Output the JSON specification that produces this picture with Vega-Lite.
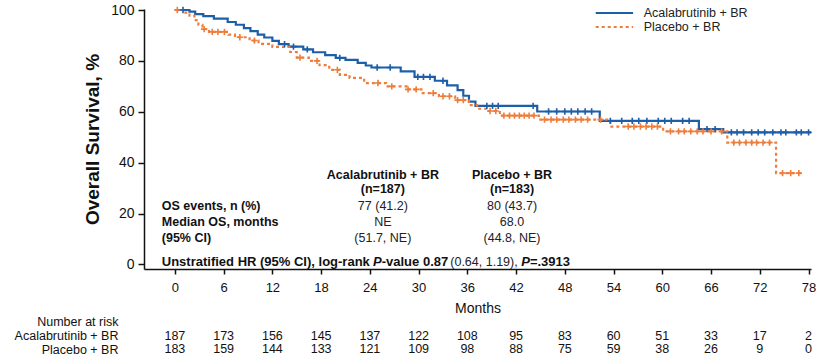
{
  "$schema": "https://vega.github.io/schema/vega-lite/v6.json",
  "padding": {"left": 14, "top": 3, "right": 0, "bottom": 0},
  "config": {"view": {"stroke": null}, "font": "Liberation Sans", "concat": {"spacing": -1}},
  "datasets": {
    "curves": [
      {"arm": "Acalabrutinib + BR", "month": 0, "surv": 100},
      {"arm": "Acalabrutinib + BR", "month": 1.8, "surv": 99.4},
      {"arm": "Acalabrutinib + BR", "month": 2.5, "surv": 98.4},
      {"arm": "Acalabrutinib + BR", "month": 3.5, "surv": 97.6},
      {"arm": "Acalabrutinib + BR", "month": 4.8, "surv": 96.6},
      {"arm": "Acalabrutinib + BR", "month": 6.5, "surv": 95.3},
      {"arm": "Acalabrutinib + BR", "month": 7.5, "surv": 94.2},
      {"arm": "Acalabrutinib + BR", "month": 8.5, "surv": 92.9},
      {"arm": "Acalabrutinib + BR", "month": 9.3, "surv": 91.7},
      {"arm": "Acalabrutinib + BR", "month": 10.2, "surv": 90.3},
      {"arm": "Acalabrutinib + BR", "month": 11, "surv": 89.2},
      {"arm": "Acalabrutinib + BR", "month": 12, "surv": 87.9},
      {"arm": "Acalabrutinib + BR", "month": 12.8, "surv": 86.6},
      {"arm": "Acalabrutinib + BR", "month": 14, "surv": 85.6},
      {"arm": "Acalabrutinib + BR", "month": 15.8, "surv": 84.5},
      {"arm": "Acalabrutinib + BR", "month": 17, "surv": 83.4},
      {"arm": "Acalabrutinib + BR", "month": 18.5, "surv": 82.3},
      {"arm": "Acalabrutinib + BR", "month": 19.8, "surv": 81.2},
      {"arm": "Acalabrutinib + BR", "month": 21, "surv": 80.4},
      {"arm": "Acalabrutinib + BR", "month": 22.5, "surv": 79.2},
      {"arm": "Acalabrutinib + BR", "month": 23.5, "surv": 78.2},
      {"arm": "Acalabrutinib + BR", "month": 24.2, "surv": 77.4},
      {"arm": "Acalabrutinib + BR", "month": 27.8, "surv": 75.9},
      {"arm": "Acalabrutinib + BR", "month": 29.5, "surv": 73.7},
      {"arm": "Acalabrutinib + BR", "month": 32, "surv": 72.2},
      {"arm": "Acalabrutinib + BR", "month": 33.5, "surv": 70.4},
      {"arm": "Acalabrutinib + BR", "month": 34.8, "surv": 68.5},
      {"arm": "Acalabrutinib + BR", "month": 35.5, "surv": 66.3},
      {"arm": "Acalabrutinib + BR", "month": 36.2, "surv": 64},
      {"arm": "Acalabrutinib + BR", "month": 37, "surv": 62.3},
      {"arm": "Acalabrutinib + BR", "month": 44.6, "surv": 60.1},
      {"arm": "Acalabrutinib + BR", "month": 52.3, "surv": 56.4},
      {"arm": "Acalabrutinib + BR", "month": 64.5, "surv": 53.2},
      {"arm": "Acalabrutinib + BR", "month": 67.5, "surv": 51.9},
      {"arm": "Acalabrutinib + BR", "month": 78.3, "surv": 51.9},
      {"arm": "Placebo + BR", "month": 0, "surv": 100},
      {"arm": "Placebo + BR", "month": 1, "surv": 99},
      {"arm": "Placebo + BR", "month": 1.8, "surv": 97.8},
      {"arm": "Placebo + BR", "month": 2.4, "surv": 96},
      {"arm": "Placebo + BR", "month": 2.9, "surv": 94.2},
      {"arm": "Placebo + BR", "month": 3.4, "surv": 92.5},
      {"arm": "Placebo + BR", "month": 4.2, "surv": 91.4},
      {"arm": "Placebo + BR", "month": 6.6, "surv": 90.3},
      {"arm": "Placebo + BR", "month": 7.4, "surv": 89.3},
      {"arm": "Placebo + BR", "month": 9.2, "surv": 88},
      {"arm": "Placebo + BR", "month": 10.3, "surv": 86.7},
      {"arm": "Placebo + BR", "month": 12, "surv": 85.5},
      {"arm": "Placebo + BR", "month": 14.2, "surv": 83.5},
      {"arm": "Placebo + BR", "month": 15, "surv": 81.3},
      {"arm": "Placebo + BR", "month": 16.5, "surv": 80},
      {"arm": "Placebo + BR", "month": 17.8, "surv": 78.3},
      {"arm": "Placebo + BR", "month": 19, "surv": 76.5},
      {"arm": "Placebo + BR", "month": 20.3, "surv": 74.5},
      {"arm": "Placebo + BR", "month": 21.5, "surv": 73.3},
      {"arm": "Placebo + BR", "month": 23.3, "surv": 71.3},
      {"arm": "Placebo + BR", "month": 26, "surv": 70},
      {"arm": "Placebo + BR", "month": 28.5, "surv": 68.8},
      {"arm": "Placebo + BR", "month": 30.5, "surv": 67.3},
      {"arm": "Placebo + BR", "month": 32.5, "surv": 66.1},
      {"arm": "Placebo + BR", "month": 34.5, "surv": 64.6},
      {"arm": "Placebo + BR", "month": 36.2, "surv": 62.6},
      {"arm": "Placebo + BR", "month": 37.2, "surv": 61.2},
      {"arm": "Placebo + BR", "month": 38.3, "surv": 60.3},
      {"arm": "Placebo + BR", "month": 40, "surv": 58.5},
      {"arm": "Placebo + BR", "month": 44.8, "surv": 56.9},
      {"arm": "Placebo + BR", "month": 53.6, "surv": 54.2},
      {"arm": "Placebo + BR", "month": 60.1, "surv": 52.3},
      {"arm": "Placebo + BR", "month": 68, "surv": 47.9},
      {"arm": "Placebo + BR", "month": 74, "surv": 35.9},
      {"arm": "Placebo + BR", "month": 77.3, "surv": 35.9}
    ],
    "censors": [
      {"arm": "Acalabrutinib + BR", "month": 1, "surv": 100},
      {"arm": "Acalabrutinib + BR", "month": 13.5, "surv": 86.6},
      {"arm": "Acalabrutinib + BR", "month": 14.6, "surv": 85.6},
      {"arm": "Acalabrutinib + BR", "month": 16.3, "surv": 84.5},
      {"arm": "Acalabrutinib + BR", "month": 20.3, "surv": 81.2},
      {"arm": "Acalabrutinib + BR", "month": 24.9, "surv": 77.4},
      {"arm": "Acalabrutinib + BR", "month": 26.5, "surv": 77.4},
      {"arm": "Acalabrutinib + BR", "month": 29.9, "surv": 73.7},
      {"arm": "Acalabrutinib + BR", "month": 30.6, "surv": 73.7},
      {"arm": "Acalabrutinib + BR", "month": 31.4, "surv": 73.7},
      {"arm": "Acalabrutinib + BR", "month": 33, "surv": 72.2},
      {"arm": "Acalabrutinib + BR", "month": 38.4, "surv": 62.3},
      {"arm": "Acalabrutinib + BR", "month": 39.1, "surv": 62.3},
      {"arm": "Acalabrutinib + BR", "month": 39.8, "surv": 62.3},
      {"arm": "Acalabrutinib + BR", "month": 44.1, "surv": 62.3},
      {"arm": "Acalabrutinib + BR", "month": 46, "surv": 60.1},
      {"arm": "Acalabrutinib + BR", "month": 47, "surv": 60.1},
      {"arm": "Acalabrutinib + BR", "month": 48, "surv": 60.1},
      {"arm": "Acalabrutinib + BR", "month": 48.8, "surv": 60.1},
      {"arm": "Acalabrutinib + BR", "month": 49.6, "surv": 60.1},
      {"arm": "Acalabrutinib + BR", "month": 50.5, "surv": 60.1},
      {"arm": "Acalabrutinib + BR", "month": 51.3, "surv": 60.1},
      {"arm": "Acalabrutinib + BR", "month": 53.6, "surv": 56.4},
      {"arm": "Acalabrutinib + BR", "month": 55, "surv": 56.4},
      {"arm": "Acalabrutinib + BR", "month": 56.3, "surv": 56.4},
      {"arm": "Acalabrutinib + BR", "month": 57.1, "surv": 56.4},
      {"arm": "Acalabrutinib + BR", "month": 58.1, "surv": 56.4},
      {"arm": "Acalabrutinib + BR", "month": 59.5, "surv": 56.4},
      {"arm": "Acalabrutinib + BR", "month": 60.3, "surv": 56.4},
      {"arm": "Acalabrutinib + BR", "month": 61.1, "surv": 56.4},
      {"arm": "Acalabrutinib + BR", "month": 62.5, "surv": 56.4},
      {"arm": "Acalabrutinib + BR", "month": 63.3, "surv": 56.4},
      {"arm": "Acalabrutinib + BR", "month": 65.5, "surv": 53.2},
      {"arm": "Acalabrutinib + BR", "month": 66.5, "surv": 53.2},
      {"arm": "Acalabrutinib + BR", "month": 68.5, "surv": 51.9},
      {"arm": "Acalabrutinib + BR", "month": 69.2, "surv": 51.9},
      {"arm": "Acalabrutinib + BR", "month": 70, "surv": 51.9},
      {"arm": "Acalabrutinib + BR", "month": 71, "surv": 51.9},
      {"arm": "Acalabrutinib + BR", "month": 71.8, "surv": 51.9},
      {"arm": "Acalabrutinib + BR", "month": 72.6, "surv": 51.9},
      {"arm": "Acalabrutinib + BR", "month": 73.6, "surv": 51.9},
      {"arm": "Acalabrutinib + BR", "month": 74.6, "surv": 51.9},
      {"arm": "Acalabrutinib + BR", "month": 75.2, "surv": 51.9},
      {"arm": "Acalabrutinib + BR", "month": 76.5, "surv": 51.9},
      {"arm": "Acalabrutinib + BR", "month": 77.1, "surv": 51.9},
      {"arm": "Acalabrutinib + BR", "month": 78, "surv": 51.9},
      {"arm": "Placebo + BR", "month": 0.3, "surv": 100},
      {"arm": "Placebo + BR", "month": 3.6, "surv": 92.5},
      {"arm": "Placebo + BR", "month": 4.6, "surv": 91.4},
      {"arm": "Placebo + BR", "month": 5.3, "surv": 91.4},
      {"arm": "Placebo + BR", "month": 6.1, "surv": 91.4},
      {"arm": "Placebo + BR", "month": 8, "surv": 89.3},
      {"arm": "Placebo + BR", "month": 9.8, "surv": 88},
      {"arm": "Placebo + BR", "month": 15.4, "surv": 81.3},
      {"arm": "Placebo + BR", "month": 17.5, "surv": 80},
      {"arm": "Placebo + BR", "month": 20, "surv": 76.5},
      {"arm": "Placebo + BR", "month": 25, "surv": 71.3},
      {"arm": "Placebo + BR", "month": 26.7, "surv": 70},
      {"arm": "Placebo + BR", "month": 28.7, "surv": 68.8},
      {"arm": "Placebo + BR", "month": 29.7, "surv": 68.8},
      {"arm": "Placebo + BR", "month": 31.8, "surv": 67.3},
      {"arm": "Placebo + BR", "month": 33, "surv": 66.1},
      {"arm": "Placebo + BR", "month": 33.8, "surv": 66.1},
      {"arm": "Placebo + BR", "month": 34.8, "surv": 64.6},
      {"arm": "Placebo + BR", "month": 35.5, "surv": 64.6},
      {"arm": "Placebo + BR", "month": 38.8, "surv": 60.3},
      {"arm": "Placebo + BR", "month": 39.5, "surv": 60.3},
      {"arm": "Placebo + BR", "month": 40.5, "surv": 58.5},
      {"arm": "Placebo + BR", "month": 41.2, "surv": 58.5},
      {"arm": "Placebo + BR", "month": 41.8, "surv": 58.5},
      {"arm": "Placebo + BR", "month": 42.4, "surv": 58.5},
      {"arm": "Placebo + BR", "month": 43, "surv": 58.5},
      {"arm": "Placebo + BR", "month": 43.6, "surv": 58.5},
      {"arm": "Placebo + BR", "month": 44.2, "surv": 58.5},
      {"arm": "Placebo + BR", "month": 45.5, "surv": 56.9},
      {"arm": "Placebo + BR", "month": 46.3, "surv": 56.9},
      {"arm": "Placebo + BR", "month": 47, "surv": 56.9},
      {"arm": "Placebo + BR", "month": 47.8, "surv": 56.9},
      {"arm": "Placebo + BR", "month": 48.5, "surv": 56.9},
      {"arm": "Placebo + BR", "month": 49.3, "surv": 56.9},
      {"arm": "Placebo + BR", "month": 50, "surv": 56.9},
      {"arm": "Placebo + BR", "month": 50.8, "surv": 56.9},
      {"arm": "Placebo + BR", "month": 52.4, "surv": 56.9},
      {"arm": "Placebo + BR", "month": 55.8, "surv": 54.2},
      {"arm": "Placebo + BR", "month": 56.5, "surv": 54.2},
      {"arm": "Placebo + BR", "month": 57.3, "surv": 54.2},
      {"arm": "Placebo + BR", "month": 58, "surv": 54.2},
      {"arm": "Placebo + BR", "month": 58.7, "surv": 54.2},
      {"arm": "Placebo + BR", "month": 59.4, "surv": 54.2},
      {"arm": "Placebo + BR", "month": 61, "surv": 52.3},
      {"arm": "Placebo + BR", "month": 62, "surv": 52.3},
      {"arm": "Placebo + BR", "month": 62.7, "surv": 52.3},
      {"arm": "Placebo + BR", "month": 63.5, "surv": 52.3},
      {"arm": "Placebo + BR", "month": 64.3, "surv": 52.3},
      {"arm": "Placebo + BR", "month": 65, "surv": 52.3},
      {"arm": "Placebo + BR", "month": 66, "surv": 52.3},
      {"arm": "Placebo + BR", "month": 67.3, "surv": 52.3},
      {"arm": "Placebo + BR", "month": 68.8, "surv": 47.9},
      {"arm": "Placebo + BR", "month": 69.5, "surv": 47.9},
      {"arm": "Placebo + BR", "month": 70.3, "surv": 47.9},
      {"arm": "Placebo + BR", "month": 71, "surv": 47.9},
      {"arm": "Placebo + BR", "month": 71.6, "surv": 47.9},
      {"arm": "Placebo + BR", "month": 72.4, "surv": 47.9},
      {"arm": "Placebo + BR", "month": 73.2, "surv": 47.9},
      {"arm": "Placebo + BR", "month": 74.8, "surv": 35.9},
      {"arm": "Placebo + BR", "month": 75.8, "surv": 35.9},
      {"arm": "Placebo + BR", "month": 76.8, "surv": 35.9}
    ],
    "legendkey": [
      {"arm": "Acalabrutinib + BR", "month": 51.8, "surv": 98.8},
      {"arm": "Acalabrutinib + BR", "month": 56.4, "surv": 98.8},
      {"arm": "Placebo + BR", "month": 51.8, "surv": 93.3},
      {"arm": "Placebo + BR", "month": 56.4, "surv": 93.3}
    ],
    "atrisk": [
      {"arm": "Acalabrutinib + BR", "month": 0, "n": 187},
      {"arm": "Acalabrutinib + BR", "month": 6, "n": 173},
      {"arm": "Acalabrutinib + BR", "month": 12, "n": 156},
      {"arm": "Acalabrutinib + BR", "month": 18, "n": 145},
      {"arm": "Acalabrutinib + BR", "month": 24, "n": 137},
      {"arm": "Acalabrutinib + BR", "month": 30, "n": 122},
      {"arm": "Acalabrutinib + BR", "month": 36, "n": 108},
      {"arm": "Acalabrutinib + BR", "month": 42, "n": 95},
      {"arm": "Acalabrutinib + BR", "month": 48, "n": 83},
      {"arm": "Acalabrutinib + BR", "month": 54, "n": 60},
      {"arm": "Acalabrutinib + BR", "month": 60, "n": 51},
      {"arm": "Acalabrutinib + BR", "month": 66, "n": 33},
      {"arm": "Acalabrutinib + BR", "month": 72, "n": 17},
      {"arm": "Acalabrutinib + BR", "month": 78, "n": 2},
      {"arm": "Placebo + BR", "month": 0, "n": 183},
      {"arm": "Placebo + BR", "month": 6, "n": 159},
      {"arm": "Placebo + BR", "month": 12, "n": 144},
      {"arm": "Placebo + BR", "month": 18, "n": 133},
      {"arm": "Placebo + BR", "month": 24, "n": 121},
      {"arm": "Placebo + BR", "month": 30, "n": 109},
      {"arm": "Placebo + BR", "month": 36, "n": 98},
      {"arm": "Placebo + BR", "month": 42, "n": 88},
      {"arm": "Placebo + BR", "month": 48, "n": 75},
      {"arm": "Placebo + BR", "month": 54, "n": 59},
      {"arm": "Placebo + BR", "month": 60, "n": 38},
      {"arm": "Placebo + BR", "month": 66, "n": 26},
      {"arm": "Placebo + BR", "month": 72, "n": 9},
      {"arm": "Placebo + BR", "month": 78, "n": 0}
    ]
  },
  "vconcat": [
    {
      "width": 667,
      "height": 260,
      "layer": [
        {
          "mark": {"type": "rect", "color": "#dedede"},
          "encoding": {
            "x": {"datum": -2.6, "type": "quantitative"},
            "x2": {"datum": 48.45},
            "y": {"datum": 6.1, "type": "quantitative"},
            "y2": {"datum": 20.2}
          }
        },
        {
          "data": {"name": "curves"},
          "mark": {"type": "line", "interpolate": "step-after", "strokeWidth": 2.2, "clip": true},
          "encoding": {
            "x": {"field": "month", "type": "quantitative",
                  "scale": {"domain": [-3.8, 78.3], "nice": false, "zero": false},
                  "axis": {"values": [0, 6, 12, 18, 24, 30, 36, 42, 48, 54, 60, 66, 72, 78], "title": "Months",
                           "grid": false, "domainColor": "#111", "domainWidth": 1.5, "tickColor": "#111", "tickWidth": 1.5, "tickSize": 5,
                           "labelFontSize": 13, "labelColor": "#111", "labelPadding": 7,
                           "titleFontSize": 14, "titleFontWeight": "normal", "titleColor": "#111", "titlePadding": 7}},
            "y": {"field": "surv", "type": "quantitative",
                  "scale": {"domain": [-1.8, 100.4], "nice": false, "zero": false},
                  "axis": {"values": [0, 20, 40, 60, 80, 100], "title": "Overall Survival, %",
                           "grid": false, "domainColor": "#111", "domainWidth": 1.5, "tickColor": "#111", "tickWidth": 1.5, "tickSize": 6,
                           "labelFontSize": 14, "labelColor": "#111", "labelPadding": 4,
                           "titleFontSize": 19, "titleFontWeight": "bold", "titleColor": "#111", "titlePadding": 8}},
            "color": {"field": "arm", "type": "nominal",
                      "scale": {"domain": ["Acalabrutinib + BR", "Placebo + BR"], "range": ["#1d5ea8", "#ee7d3b"]},
                      "legend": null},
            "strokeDash": {"field": "arm", "type": "nominal",
                           "scale": {"domain": ["Acalabrutinib + BR", "Placebo + BR"], "range": [[1, 0], [3, 3]]},
                           "legend": null}
          }
        },
        {
          "data": {"name": "legendkey"},
          "mark": {"type": "line", "strokeWidth": 2},
          "encoding": {
            "x": {"field": "month", "type": "quantitative"},
            "y": {"field": "surv", "type": "quantitative"},
            "color": {"field": "arm", "type": "nominal", "legend": null},
            "strokeDash": {"field": "arm", "type": "nominal", "legend": null}
          }
        },
        {
          "data": {"name": "censors"},
          "mark": {"type": "point", "shape": "M-1,0H1M0,-1V1", "filled": false, "size": 40, "strokeWidth": 1.6, "opacity": 1},
          "encoding": {
            "x": {"field": "month", "type": "quantitative"},
            "y": {"field": "surv", "type": "quantitative"},
            "stroke": {"field": "arm", "type": "nominal",
                       "scale": {"domain": ["Acalabrutinib + BR", "Placebo + BR"], "range": ["#1d5ea8", "#ee7d3b"]},
                       "legend": null}
          }
        },
        {
          "data": {"values": [
            {"t": "Acalabrutinib + BR", "month": 57.7, "surv": 98.8},
            {"t": "Placebo + BR", "month": 57.7, "surv": 93.3}
          ]},
          "mark": {"type": "text", "fontSize": 12.5, "align": "left", "baseline": "middle", "color": "#222"},
          "encoding": {"x": {"field": "month", "type": "quantitative"}, "y": {"field": "surv", "type": "quantitative"}, "text": {"field": "t"}}
        },
        {
          "data": {"values": [
            {"t": "Acalabrutinib + BR", "month": 25.6, "surv": 35.0},
            {"t": "(n=187)", "month": 25.6, "surv": 29.5},
            {"t": "Placebo + BR", "month": 41.5, "surv": 35.0},
            {"t": "(n=183)", "month": 41.5, "surv": 29.5}
          ]},
          "mark": {"type": "text", "fontWeight": "bold", "fontSize": 12.5, "align": "center", "baseline": "middle", "color": "#111"},
          "encoding": {"x": {"field": "month", "type": "quantitative"}, "y": {"field": "surv", "type": "quantitative"}, "text": {"field": "t"}}
        },
        {
          "data": {"values": [
            {"t": "OS events, n (%)", "month": -1.61, "surv": 23},
            {"t": "Median OS, months", "month": -1.61, "surv": 16.7},
            {"t": "(95% CI)", "month": -1.61, "surv": 10.4}
          ]},
          "mark": {"type": "text", "fontWeight": "bold", "fontSize": 12.5, "align": "left", "baseline": "middle", "color": "#111"},
          "encoding": {"x": {"field": "month", "type": "quantitative"}, "y": {"field": "surv", "type": "quantitative"}, "text": {"field": "t"}}
        },
        {
          "data": {"values": [
            {"t": "Unstratified HR (95% CI), log-rank", "month": -1.61, "surv": 0.9},
            {"t": "-value 0.87", "month": 25.46, "surv": 0.9},
            {"t": "=.3913", "month": 43.7, "surv": 0.9}
          ]},
          "mark": {"type": "text", "fontWeight": "bold", "fontSize": 13, "align": "left", "baseline": "middle", "color": "#111"},
          "encoding": {"x": {"field": "month", "type": "quantitative"}, "y": {"field": "surv", "type": "quantitative"}, "text": {"field": "t"}}
        },
        {
          "data": {"values": [
            {"t": "P", "month": 24.38, "surv": 0.9},
            {"t": "P", "month": 42.63, "surv": 0.9}
          ]},
          "mark": {"type": "text", "fontWeight": "bold", "fontStyle": "italic", "fontSize": 13, "align": "left", "baseline": "middle", "color": "#111"},
          "encoding": {"x": {"field": "month", "type": "quantitative"}, "y": {"field": "surv", "type": "quantitative"}, "text": {"field": "t"}}
        },
        {
          "data": {"values": [
            {"t": "(0.64, 1.19),", "month": 33.9, "surv": 0.9}
          ]},
          "mark": {"type": "text", "fontSize": 12.5, "align": "left", "baseline": "middle", "color": "#222"},
          "encoding": {"x": {"field": "month", "type": "quantitative"}, "y": {"field": "surv", "type": "quantitative"}, "text": {"field": "t"}}
        },
        {
          "data": {"values": [
            {"t": "77 (41.2)", "month": 25.6, "surv": 23},
            {"t": "80 (43.7)", "month": 41.5, "surv": 23},
            {"t": "NE", "month": 25.6, "surv": 16.7},
            {"t": "(51.7, NE)", "month": 25.6, "surv": 10.4},
            {"t": "68.0", "month": 41.5, "surv": 16.7},
            {"t": "(44.8, NE)", "month": 41.5, "surv": 10.4}
          ]},
          "mark": {"type": "text", "fontSize": 12.5, "align": "center", "baseline": "middle", "color": "#222"},
          "encoding": {"x": {"field": "month", "type": "quantitative"}, "y": {"field": "surv", "type": "quantitative"}, "text": {"field": "t"}}
        }
      ]
    },
    {
      "width": 667,
      "height": 41,
      "data": {"name": "atrisk"},
      "mark": {"type": "text", "fontSize": 12.5, "align": "center", "baseline": "middle", "color": "#111"},
      "encoding": {
        "x": {"field": "month", "type": "quantitative", "scale": {"domain": [-3.8, 78.3], "nice": false, "zero": false}, "axis": null},
        "y": {"field": "arm", "type": "nominal",
              "scale": {"domain": ["Number at risk", "Acalabrutinib + BR", "Placebo + BR"], "paddingInner": 0, "paddingOuter": 0},
              "axis": {"title": null, "domain": false, "ticks": false, "labelFontSize": 12.5, "labelColor": "#111", "labelPadding": 26}},
        "text": {"field": "n", "type": "quantitative"}
      }
    }
  ],
  "resolve": {"scale": {"x": "independent", "y": "independent"}}
}
